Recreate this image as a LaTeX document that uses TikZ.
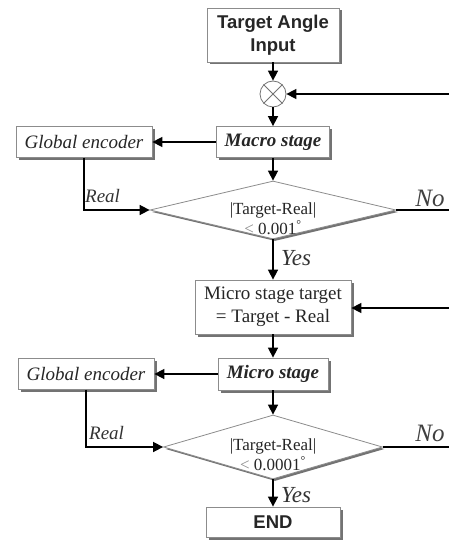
\documentclass[tikz,border=0pt]{standalone}
\usepackage{fontspec}
\setmainfont{Liberation Serif}
\newfontfamily\arialf{Liberation Sans}
\usetikzlibrary{arrows.meta,shapes.geometric,shadows}
\begin{document}
\begin{tikzpicture}[x=1pt,y=-1pt,
  box/.style={draw=black!45,line width=0.8pt,fill=white,inner sep=0pt,align=center,text=black!85,
    drop shadow={shadow xshift=2.5pt,shadow yshift=-2.5pt,fill=black!55,opacity=1}},
  dia/.style={diamond,draw=black!45,line width=0.8pt,fill=white,inner sep=0pt,
    drop shadow={shadow xshift=2pt,shadow yshift=-2pt,fill=black!55,opacity=1}},
  arr/.style={line width=1.6pt,-{Triangle[length=10pt,width=10pt]}},
  ln/.style={line width=1.6pt},
  sansb/.style={font=\arialf\bfseries\fontsize{18.5}{23}\selectfont},
  serit/.style={font=\itshape\fontsize{19}{22}\selectfont},
  lab/.style={font=\itshape\fontsize{19}{22}\selectfont,text=black!80,inner sep=0pt},
  biglab/.style={font=\itshape\fontsize{25}{28}\selectfont,text=black!75,inner sep=0pt},
  dtext/.style={font=\fontsize{17}{19}\selectfont,text=black!85,align=center,inner sep=0pt}
]
\useasboundingbox (0,0) rectangle (449,540);
% nodes
\node[box,sansb,minimum width=132pt,minimum height=54pt] (tgt) at (273,35) {Target Angle\\Input};
\node[circle,draw=black!55,line width=0.8pt,fill=white,minimum size=26pt,inner sep=0pt] (sum) at (273,94) {};
\draw[black!55,line width=0.8pt] (sum.45) -- (sum.225) (sum.135) -- (sum.315);
\node[box,font=\bfseries\itshape\fontsize{19}{22}\selectfont,minimum width=113pt,minimum height=31pt] (macro) at (273,142) {Macro stage};
\node[box,serit,minimum width=136pt,minimum height=31pt] (ge1) at (84,142) {Global encoder};
\node[dia,minimum width=246pt,minimum height=58pt] (d1) at (273,210) {};
\node[dtext] (d1t) at (273,219) {|Target-Real|\\[1pt]{\color{black!45}<} 0.001\textsuperscript{°}};
\node[box,font=\fontsize{19}{23}\selectfont,minimum width=156pt,minimum height=54pt] (mt) at (273,307) {Micro stage target\\= Target - Real};
\node[box,font=\bfseries\itshape\fontsize{19}{22}\selectfont,minimum width=110pt,minimum height=32pt] (micro) at (273,374) {Micro stage};
\node[box,serit,minimum width=136pt,minimum height=31pt] (ge2) at (86,374) {Global encoder};
\node[dia,minimum width=219pt,minimum height=64pt] (d2) at (273,447) {};
\node[dtext] (d2t) at (273,455) {|Target-Real|\\[1pt]{\color{black!45}<} 0.0001\textsuperscript{°}};
\node[box,sansb,minimum width=134pt,minimum height=30pt] (endb) at (273,522) {END};
% right-edge coordinates
\coordinate (r1) at (449,94);
\coordinate (r2) at (449,210);
\coordinate (r3) at (449,308);
\coordinate (r4) at (449,447);
\coordinate (c1) at (ge1.south |- d1.west);
\coordinate (c2) at (ge2.south |- d2.west);
% connectors
\draw[arr] (tgt) -- (sum);
\draw[arr] (sum) -- (macro);
\draw[arr] (r1) -- (sum);
\draw[arr] (macro) -- (ge1);
\draw[arr] (macro) -- (d1.north);
\draw[arr] (ge1.south) -- (c1) -- (d1.west);
\draw[ln] (d1.east) -- (r2);
\draw[arr] (d1.south) -- (mt);
\draw[arr] (r3) -- (mt.east |- r3);
\draw[arr] (mt) -- (micro);
\draw[arr] (micro) -- (ge2);
\draw[arr] (micro) -- (d2.north);
\draw[arr] (ge2.south) -- (c2) -- (d2.west);
\draw[ln] (d2.east) -- (r4);
\draw[arr] (d2.south) -- (endb);
% labels
\node[lab,anchor=west] (real1) at (85,196) {Real};
\node[lab,anchor=west] (real2) at (89,433) {Real};
\node[biglab] (no1) at (430,198) {No};
\node[biglab] (no2) at (430,433) {No};
\node[lab,font=\itshape\fontsize{23}{26}\selectfont,anchor=west] (yes1) at (281,258) {Yes};
\node[lab,font=\itshape\fontsize{23}{26}\selectfont,anchor=west] (yes2) at (281,495) {Yes};
\end{tikzpicture}
\end{document}
